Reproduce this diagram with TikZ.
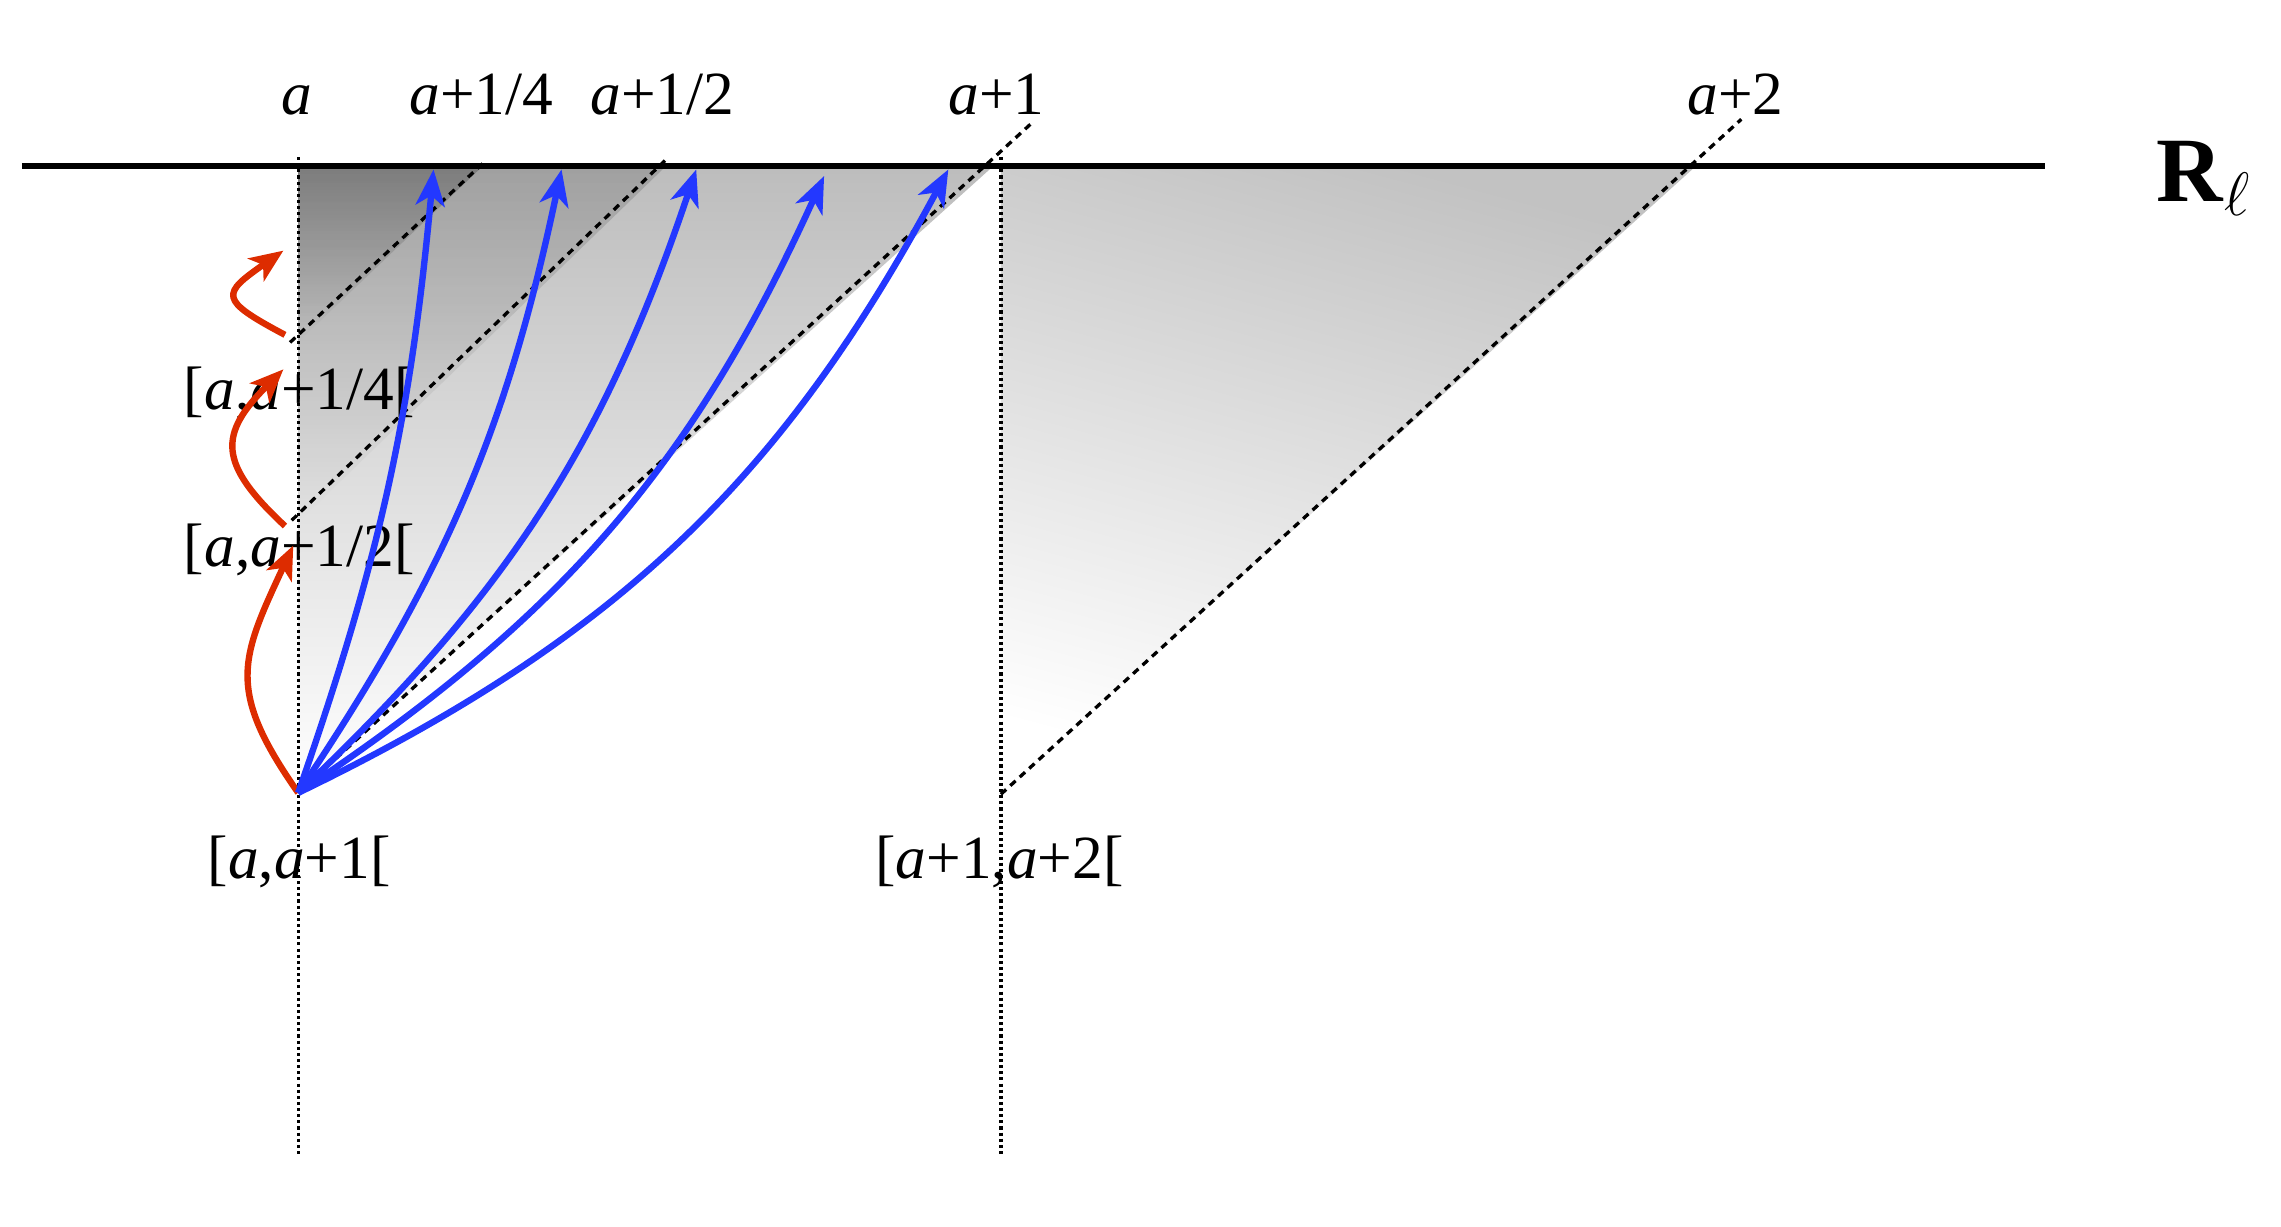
\documentclass[tikz,border=0pt]{standalone}
\usepackage{fontspec}
\setmainfont{Liberation Serif}
\usepackage{tikz}
\usetikzlibrary{arrows.meta,calc}
\definecolor{Flow}{HTML}{2338FF}
\definecolor{Jump}{HTML}{DD2C00}
\newcommand{\va}{\textit{a}}

\begin{document}
\begin{tikzpicture}[
  lbl/.style={font=\fontsize{12}{14}\selectfont,anchor=base,inner sep=0pt},
  guide/.style={line width=0.65pt,dash pattern=on 0.6pt off 0.6pt},
  cone/.style={line width=0.65pt,dash pattern=on 1.4pt off 1.1pt},
  flow/.style={-{Stealth[length=2.5mm,width=2mm,inset=0.7mm]},line width=1.25pt,draw=Flow},
  jump/.style={-{Stealth[length=2.3mm,width=1.9mm,inset=0.6mm]},line width=1.25pt,draw=Jump}
]
\useasboundingbox (0,0) rectangle (15.68,8.43);
% base points of the intervals
\coordinate (Ia) at (2.05,2.98);
\coordinate (Ih) at (2.05,4.84);
\coordinate (Iq) at (2.05,6.08);
\coordinate (Ib) at (6.88,2.97);
% where the cones meet the line
\coordinate (Ta) at (6.83,7.29);
\coordinate (Th) at (4.58,7.29);
\coordinate (Tq) at (3.32,7.29);
\coordinate (Tb) at (11.66,7.29);

% shaded cones
\begin{scope}[blend mode=multiply]
\shade[top color=black!26,bottom color=white] (Ia) -- (2.05,7.29) -- (Ta) -- cycle;
\shade[top color=black!15,bottom color=white] (Ih) -- (2.05,7.29) -- (Th) -- cycle;
\shade[top color=black!22,bottom color=white] (Iq) -- (2.05,7.29) -- (Tq) -- cycle;
\shade[top color=black!24,bottom color=white,shading angle=-15] (Ib) -- (6.88,7.29) -- (Tb) -- cycle;
\end{scope}

% labels
\node[lbl] (La) at (2.04,7.64) {\va};
\node[lbl] (Lq) at (3.31,7.64) {\va+1/4};
\node[lbl] (Lh) at (4.553,7.64) {\va+1/2};
\node[lbl] (L1) at (6.85,7.64) {\va+1};
\node[lbl] (L2) at (11.93,7.64) {\va+2};
\node[lbl] (Kq) at (2.057,5.615) {[\va,\va+1/4[};
\node[lbl] (Kh) at (2.057,4.537) {[\va,\va+1/2[};
\node[lbl] (Ka) at (2.057,2.39) {[\va,\va+1[};
\node[lbl] (Kb) at (6.87,2.39) {[\va+1,\va+2[};
\node[anchor=base west,inner sep=0pt,font=\fontsize{18}{20}\selectfont] (Rl) at (14.82,7.043) {\textbf{R}$_\ell$};

% axes
\draw[guide] (2.05,7.35) -- (2.05,0.48);
\draw[guide] (6.88,7.35) -- (6.88,0.48);
\draw[cone] (1.994,6.076) -- (3.32,7.307);
\draw[cone] (2.005,4.853) -- (4.575,7.33);
\draw[cone] (Ia) -- (7.11,7.60);
\draw[cone] (Ib) -- (11.97,7.61);
\draw[line width=1.1pt] (0.15,7.29) -- (14.06,7.29);

% red jumps
\coordinate (rh) at (2.016,4.68);
\coordinate (sh) at (1.959,4.814);
\coordinate (rq) at (1.948,5.891);
\coordinate (sq) at (1.959,6.128);
\coordinate (rt) at (1.948,6.707);
\draw[jump] (Ia) to[out=125,in=-115,looseness=1.3] (rh);
\draw[jump] (sh) to[out=137,in=-135,looseness=1.5] (rq);
\draw[jump] (sq) to[out=152,in=-145,looseness=2.3] (rt);

% blue flows
\coordinate (b1) at (2.98,7.265);
\coordinate (b2) at (3.86,7.265);
\coordinate (b3) at (4.786,7.265);
\coordinate (b4) at (5.665,7.22);
\coordinate (b5) at (6.519,7.265);
\foreach \tip/\bend in {b1/7,b2/11,b3/14,b4/16,b5/18}
  \draw[flow] (Ia) to[bend right=\bend] (\tip);
\end{tikzpicture}
\end{document}
